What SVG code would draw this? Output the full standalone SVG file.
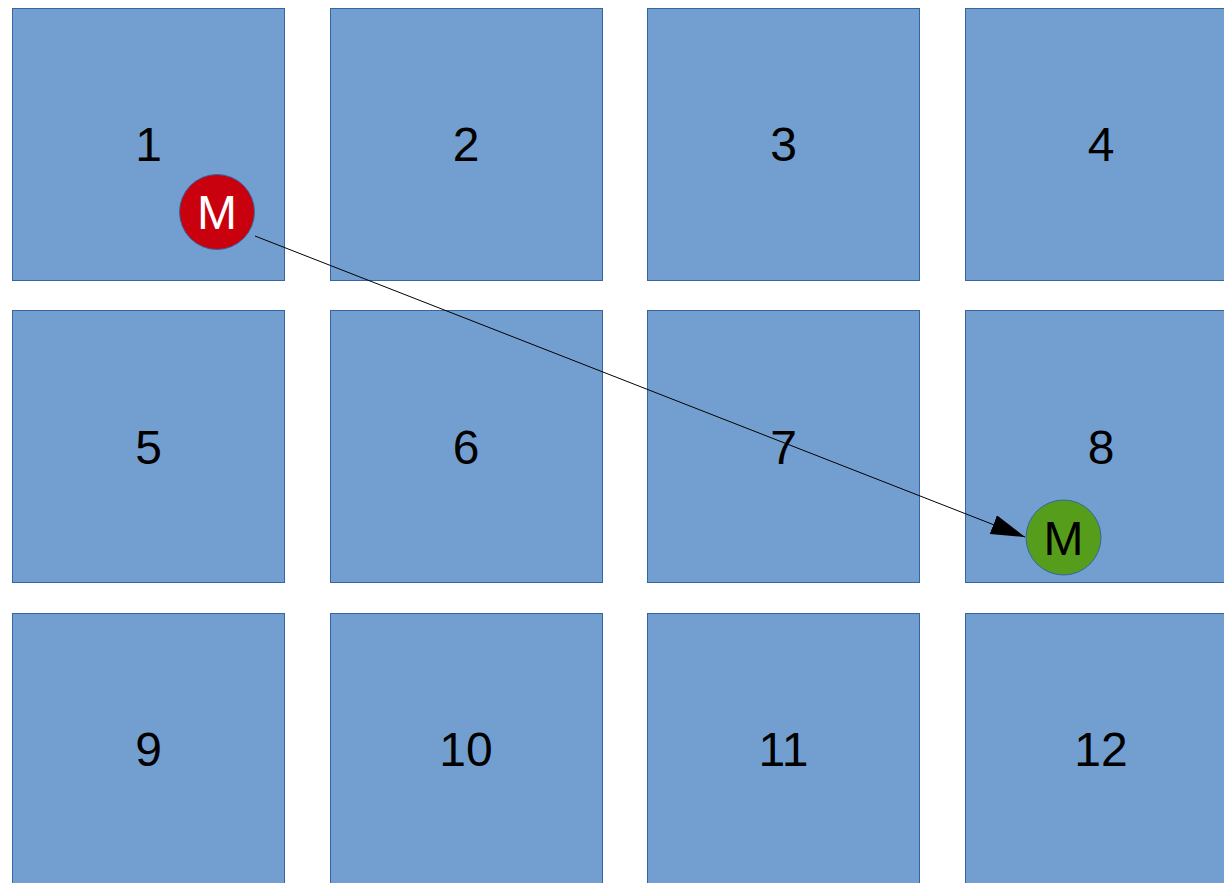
<svg xmlns="http://www.w3.org/2000/svg" width="1224" height="883" viewBox="0 0 1224 883">
<style>
.box{fill:#729fcf;stroke:#3465a4;stroke-width:1}
.lbl{font-family:"Liberation Sans",Arial,sans-serif;font-size:48px;fill:#000;text-anchor:middle}
.mk{font-family:"Liberation Sans",Arial,sans-serif;font-size:48px;text-anchor:middle}
</style>
<defs>
<marker id="arr" markerWidth="34" markerHeight="20" refX="34" refY="10" orient="auto" markerUnits="userSpaceOnUse">
<path d="M0,0 L34,10 L0,20 Z" fill="#000"/>
</marker>
</defs>
<rect width="1224" height="883" fill="#fff"/>
<g id="b1"><rect class="box" x="12.5" y="8.5" width="272" height="272"/><text class="lbl" x="148.5" y="161">1</text></g>
<g id="b2"><rect class="box" x="330.5" y="8.5" width="272" height="272"/><text class="lbl" x="466" y="161">2</text></g>
<g id="b3"><rect class="box" x="647.5" y="8.5" width="272" height="272"/><text class="lbl" x="783.5" y="161">3</text></g>
<g id="b4"><rect class="box" x="965.5" y="8.5" width="272" height="272"/><text class="lbl" x="1101" y="161">4</text></g>
<g id="b5"><rect class="box" x="12.5" y="310.5" width="272" height="272"/><text class="lbl" x="148.5" y="464">5</text></g>
<g id="b6"><rect class="box" x="330.5" y="310.5" width="272" height="272"/><text class="lbl" x="466" y="464">6</text></g>
<g id="b7"><rect class="box" x="647.5" y="310.5" width="272" height="272"/><text class="lbl" x="783.5" y="464">7</text></g>
<g id="b8"><rect class="box" x="965.5" y="310.5" width="272" height="272"/><text class="lbl" x="1101" y="464">8</text></g>
<g id="b9"><rect class="box" x="12.5" y="613.5" width="272" height="280"/><text class="lbl" x="148.5" y="766">9</text></g>
<g id="b10"><rect class="box" x="330.5" y="613.5" width="272" height="280"/><text class="lbl" x="466" y="766">10</text></g>
<g id="b11"><rect class="box" x="647.5" y="613.5" width="272" height="280"/><text class="lbl" x="783.5" y="766">11</text></g>
<g id="b12"><rect class="box" x="965.5" y="613.5" width="272" height="280"/><text class="lbl" x="1101" y="766">12</text></g>
<g id="connectors">
<line x1="255" y1="236" x2="1025" y2="537" stroke="#000" stroke-width="1" marker-end="url(#arr)"/>
</g>
<g id="m1"><circle cx="217" cy="212" r="37.5" fill="#c9000e" stroke="#3465a4" stroke-width="1"/><text class="mk" x="217" y="229" fill="#fff">M</text></g>
<g id="m2"><circle cx="1063.5" cy="537.5" r="37.5" fill="#579d1c" stroke="#3465a4" stroke-width="1"/><text class="mk" x="1063.5" y="555" fill="#000">M</text></g>
</svg>
